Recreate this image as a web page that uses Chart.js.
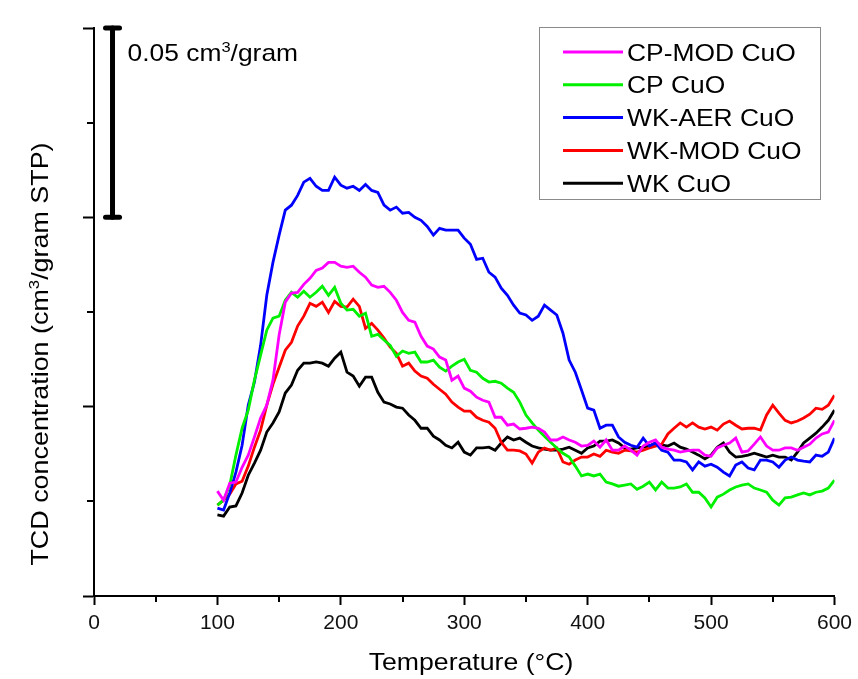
<!DOCTYPE html>
<html>
<head>
<meta charset="utf-8">
<script src="https://cdn.jsdelivr.net/npm/chart.js@4.4.1/dist/chart.umd.min.js"></script>
<style>
  html, body { margin: 0; padding: 0; background: #fff; }
  canvas { display: block; }
</style>
</head>
<body>
<canvas id="tpr-chart" width="858" height="679"></canvas>
<script>
// temperature (°C)
const temps = [
  100, 105, 110, 115, 120, 125, 130, 135, 140, 145,
  150, 155, 160, 165, 170, 175, 180, 185, 190, 195,
  200, 205, 210, 215, 220, 225, 230, 235, 240, 245,
  250, 255, 260, 265, 270, 275, 280, 285, 290, 295,
  300, 305, 310, 315, 320, 325, 330, 335, 340, 345,
  350, 355, 360, 365, 370, 375, 380, 385, 390, 395,
  400, 405, 410, 415, 420, 425, 430, 435, 440, 445,
  450, 455, 460, 465, 470, 475, 480, 485, 490, 495,
  500, 505, 510, 515, 520, 525, 530, 535, 540, 545,
  550, 555, 560, 565, 570, 575, 580, 585, 590, 595,
  600
];

// TCD signal, cm3/gram STP
const cpModCuO = [
  0.0277, 0.0253, 0.0298, 0.0301, 0.0340, 0.0372, 0.0420, 0.0470, 0.0504, 0.0570,
  0.0689, 0.0776, 0.0800, 0.0802, 0.0823, 0.0839, 0.0860, 0.0866, 0.0881, 0.0881,
  0.0871, 0.0868, 0.0871, 0.0855, 0.0842, 0.0821, 0.0815, 0.0818, 0.0802, 0.0781,
  0.0749, 0.0728, 0.0723, 0.0686, 0.0660, 0.0652, 0.0631, 0.0623, 0.0570, 0.0581,
  0.0549, 0.0541, 0.0525, 0.0517, 0.0512, 0.0472, 0.0472, 0.0451, 0.0454, 0.0441,
  0.0443, 0.0446, 0.0443, 0.0433, 0.0412, 0.0412, 0.0420, 0.0412, 0.0406, 0.0396,
  0.0398, 0.0409, 0.0393, 0.0412, 0.0385, 0.0385, 0.0396, 0.0385, 0.0372, 0.0396,
  0.0406, 0.0412, 0.0393, 0.0388, 0.0385, 0.0380, 0.0383, 0.0385, 0.0385, 0.0372,
  0.0369, 0.0391, 0.0398, 0.0404, 0.0417, 0.0380, 0.0383, 0.0401, 0.0420, 0.0396,
  0.0385, 0.0385, 0.0391, 0.0391, 0.0385, 0.0393, 0.0401, 0.0417, 0.0428, 0.0433,
  0.0464
];
const cpCuO = [
  0.0240, 0.0253, 0.0293, 0.0372, 0.0443, 0.0491, 0.0570, 0.0636, 0.0702, 0.0734,
  0.0739, 0.0781, 0.0802, 0.0789, 0.0805, 0.0789, 0.0802, 0.0818, 0.0794, 0.0815,
  0.0773, 0.0755, 0.0757, 0.0739, 0.0747, 0.0686, 0.0691, 0.0676, 0.0662, 0.0633,
  0.0647, 0.0641, 0.0644, 0.0618, 0.0618, 0.0623, 0.0604, 0.0594, 0.0607, 0.0618,
  0.0625, 0.0596, 0.0591, 0.0575, 0.0565, 0.0567, 0.0562, 0.0549, 0.0538, 0.0512,
  0.0478, 0.0457, 0.0438, 0.0422, 0.0406, 0.0391, 0.0377, 0.0367, 0.0343, 0.0317,
  0.0322, 0.0317, 0.0322, 0.0301, 0.0296, 0.0290, 0.0293, 0.0296, 0.0282, 0.0290,
  0.0301, 0.0280, 0.0301, 0.0285, 0.0285, 0.0288, 0.0296, 0.0274, 0.0274, 0.0259,
  0.0235, 0.0261, 0.0269, 0.0280, 0.0288, 0.0293, 0.0296, 0.0285, 0.0280, 0.0274,
  0.0253, 0.0240, 0.0259, 0.0261, 0.0267, 0.0272, 0.0267, 0.0274, 0.0277, 0.0285,
  0.0306
];
const wkAerCuO = [
  0.0232, 0.0227, 0.0272, 0.0327, 0.0398, 0.0504, 0.0565, 0.0662, 0.0794, 0.0881,
  0.0953, 0.1019, 0.1032, 0.1058, 0.1093, 0.1103, 0.1082, 0.1071, 0.1071, 0.1106,
  0.1085, 0.1077, 0.1082, 0.1071, 0.1087, 0.1071, 0.1066, 0.1032, 0.1019, 0.1027,
  0.1011, 0.1013, 0.1000, 0.0992, 0.0976, 0.0953, 0.0971, 0.0966, 0.0966, 0.0966,
  0.0945, 0.0929, 0.0889, 0.0892, 0.0855, 0.0842, 0.0813, 0.0794, 0.0768, 0.0747,
  0.0742, 0.0728, 0.0739, 0.0768, 0.0755, 0.0742, 0.0694, 0.0623, 0.0591, 0.0544,
  0.0496, 0.0491, 0.0443, 0.0451, 0.0451, 0.0420, 0.0406, 0.0398, 0.0393, 0.0417,
  0.0396, 0.0404, 0.0385, 0.0380, 0.0359, 0.0359, 0.0354, 0.0333, 0.0354, 0.0343,
  0.0348, 0.0340, 0.0327, 0.0317, 0.0346, 0.0354, 0.0338, 0.0333, 0.0359, 0.0359,
  0.0354, 0.0340, 0.0359, 0.0367, 0.0359, 0.0356, 0.0354, 0.0372, 0.0369, 0.0380,
  0.0417
];
const wkModCuO = [
  0.0240, 0.0253, 0.0269, 0.0296, 0.0303, 0.0343, 0.0393, 0.0438, 0.0504, 0.0559,
  0.0604, 0.0649, 0.0670, 0.0713, 0.0739, 0.0773, 0.0765, 0.0776, 0.0749, 0.0778,
  0.0765, 0.0763, 0.0784, 0.0765, 0.0707, 0.0720, 0.0702, 0.0681, 0.0657, 0.0641,
  0.0607, 0.0615, 0.0594, 0.0581, 0.0575, 0.0559, 0.0546, 0.0533, 0.0512, 0.0499,
  0.0488, 0.0488, 0.0472, 0.0464, 0.0459, 0.0443, 0.0406, 0.0385, 0.0385, 0.0383,
  0.0375, 0.0351, 0.0380, 0.0391, 0.0385, 0.0391, 0.0354, 0.0348, 0.0359, 0.0367,
  0.0367, 0.0375, 0.0369, 0.0385, 0.0380, 0.0377, 0.0385, 0.0383, 0.0380, 0.0385,
  0.0391, 0.0396, 0.0401, 0.0428, 0.0443, 0.0457, 0.0446, 0.0457, 0.0446, 0.0441,
  0.0446, 0.0438, 0.0454, 0.0462, 0.0451, 0.0441, 0.0443, 0.0443, 0.0438, 0.0478,
  0.0504, 0.0483, 0.0464, 0.0457, 0.0462, 0.0470, 0.0480, 0.0496, 0.0493, 0.0504,
  0.0530
];
const wkCuO = [
  0.0214, 0.0211, 0.0235, 0.0238, 0.0272, 0.0319, 0.0351, 0.0385, 0.0433, 0.0457,
  0.0486, 0.0536, 0.0557, 0.0596, 0.0615, 0.0615, 0.0618, 0.0615, 0.0607, 0.0628,
  0.0644, 0.0591, 0.0581, 0.0554, 0.0578, 0.0578, 0.0538, 0.0512, 0.0507, 0.0499,
  0.0496, 0.0478, 0.0464, 0.0443, 0.0443, 0.0422, 0.0412, 0.0398, 0.0391, 0.0406,
  0.0380, 0.0372, 0.0391, 0.0391, 0.0393, 0.0385, 0.0404, 0.0420, 0.0412, 0.0417,
  0.0406, 0.0396, 0.0391, 0.0388, 0.0385, 0.0385, 0.0388, 0.0393, 0.0385, 0.0377,
  0.0391, 0.0396, 0.0409, 0.0409, 0.0412, 0.0404, 0.0391, 0.0388, 0.0391, 0.0393,
  0.0396, 0.0404, 0.0399, 0.0396, 0.0404, 0.0393, 0.0388, 0.0380, 0.0372, 0.0362,
  0.0372, 0.0393, 0.0404, 0.0380, 0.0367, 0.0369, 0.0372, 0.0377, 0.0372, 0.0367,
  0.0372, 0.0367, 0.0367, 0.0359, 0.0380, 0.0404, 0.0417, 0.0430, 0.0446, 0.0464,
  0.0491
];

const seriesNames = ['CP-MOD CuO', 'CP CuO', 'WK-AER CuO', 'WK-MOD CuO', 'WK CuO'];
const seriesValues = [cpModCuO, cpCuO, wkAerCuO, wkModCuO, wkCuO];
const seriesColors = ['#ff00ff', '#00f000', '#0000ff', '#ff0000', '#000000'];

const scaleBarSize = 0.05;   // cm3/gram
const scaleBarTop = 0.15;
const scaleBarTemp = 15;

const FONT = '"Liberation Sans", Arial, sans-serif';

// text with pieces of different size (for the superscript 3), stretched a bit in x
function richText(ctx, parts, x, y, align, rot, sx) {
  let w = 0;
  parts.forEach(p => { ctx.font = p[1] + 'px ' + FONT; w += ctx.measureText(p[0]).width; });
  let cx = align === 'center' ? -w / 2 : 0;
  ctx.save();
  ctx.translate(x, y);
  if (rot) ctx.rotate(rot);
  ctx.scale(sx, 1);
  ctx.fillStyle = '#000';
  ctx.textAlign = 'left';
  ctx.textBaseline = 'alphabetic';
  parts.forEach(p => {
    ctx.font = p[1] + 'px ' + FONT;
    ctx.fillText(p[0], cx, -(p[2] || 0));
    cx += ctx.measureText(p[0]).width;
  });
  ctx.restore();
}

const extras = {
  id: 'extras',
  afterDraw(chart) {
    const ctx = chart.ctx;
    const xs = chart.scales.x, ys = chart.scales.y;
    const area = chart.chartArea;

    ctx.save();
    ctx.strokeStyle = '#000';
    ctx.lineWidth = 2;
    // minor ticks
    [50, 150, 250, 350, 450, 550].forEach(t => {
      const px = Math.round(xs.getPixelForValue(t));
      ctx.beginPath(); ctx.moveTo(px, area.bottom); ctx.lineTo(px, area.bottom + 6); ctx.stroke();
    });
    [0.025, 0.075, 0.125].forEach(v => {
      const py = Math.round(ys.getPixelForValue(v));
      ctx.beginPath(); ctx.moveTo(area.left, py); ctx.lineTo(area.left - 7, py); ctx.stroke();
    });

    // scale bar
    const bx = xs.getPixelForValue(scaleBarTemp);
    const b1 = ys.getPixelForValue(scaleBarTop);
    const b2 = ys.getPixelForValue(scaleBarTop - scaleBarSize);
    ctx.lineCap = 'round';
    ctx.lineWidth = 5;
    ctx.beginPath(); ctx.moveTo(bx, b1); ctx.lineTo(bx, b2); ctx.stroke();
    ctx.beginPath(); ctx.moveTo(bx - 7, b1); ctx.lineTo(bx + 7, b1); ctx.stroke();
    ctx.beginPath(); ctx.moveTo(bx - 7, b2); ctx.lineTo(bx + 7, b2); ctx.stroke();
    ctx.restore();
    richText(ctx, [[scaleBarSize.toFixed(2) + ' cm', 24], ['3', 15, 9], ['/gram', 24]], bx + 15, b1 + 33, 'left', 0, 1.1);

    // axis titles
    richText(ctx, [['Temperature (°C)', 24]], 471, 670, 'center', 0, 1.11);
    richText(ctx, [['TCD concentration (cm', 24], ['3', 15, 9], ['/gram STP)', 24]], 48, 354, 'center', -Math.PI / 2, 1.12);

    // legend box
    ctx.save();
    ctx.strokeStyle = '#8a8a8a';
    ctx.lineWidth = 1;
    ctx.strokeRect(539.5, 27.5, 281, 172);
    chart.data.datasets.forEach((ds, i) => {
      const ly = 52 + i * 32.8;
      ctx.strokeStyle = ds.borderColor;
      ctx.lineWidth = 3;
      ctx.beginPath(); ctx.moveTo(563, ly); ctx.lineTo(623, ly); ctx.stroke();
      richText(ctx, [[ds.label, 24]], 627, ly + 8.5, 'left', 0, 1.1);
    });
    ctx.restore();
  }
};

new Chart(document.getElementById('tpr-chart').getContext('2d'), {
  type: 'line',
  data: {
    datasets: seriesNames.map((name, i) => ({
      label: name,
      data: temps.map((t, k) => ({ x: t, y: seriesValues[i][k] })),
      borderColor: seriesColors[i],
      borderWidth: 2.8,
      pointRadius: 0,
      fill: false,
      tension: 0
    }))
  },
  options: {
    responsive: false,
    animation: false,
    layout: { padding: { top: 28, right: 22, left: 0, bottom: 0 } },
    plugins: {
      legend: { display: false },
      tooltip: { enabled: false }
    },
    scales: {
      x: {
        type: 'linear',
        min: 0,
        max: 600,
        ticks: { stepSize: 100, color: '#111', font: { family: FONT, size: 21 }, padding: 6, maxRotation: 0 },
        grid: { drawOnChartArea: false, tickLength: 9, tickWidth: 2, tickColor: '#000' },
        border: { color: '#000', width: 2 },
        afterFit: s => { s.height = 83; }
      },
      y: {
        min: 0,
        max: 0.15,
        ticks: { stepSize: 0.05, callback: () => '' },
        grid: { drawOnChartArea: false, tickLength: 11, tickWidth: 2, tickColor: '#000' },
        border: { color: '#000', width: 2 },
        afterFit: s => { s.width = 94; }
      }
    }
  },
  plugins: [extras]
});
</script>
</body>
</html>
